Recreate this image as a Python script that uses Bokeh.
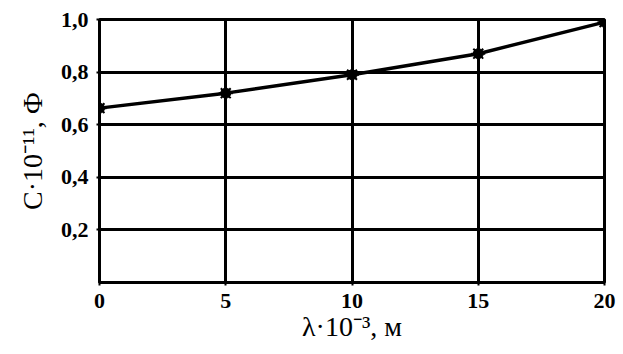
from bokeh.plotting import figure
from bokeh.embed import file_html
from bokeh.resources import INLINE
from bokeh.models import FixedTicker, Range1d

x_vals = [0, 5, 10, 15, 20]
c_vals = [0.663, 0.72, 0.79, 0.87, 0.99]
x_ticks = [0, 5, 10, 15, 20]
y_ticks = [0.2, 0.4, 0.6, 0.8, 1.0]
y_tick_labels = ["0,2", "0,4", "0,6", "0,8", "1,0"]

p = figure(width=620, height=348, output_backend="svg", toolbar_location=None,
           x_range=Range1d(0, 20), y_range=Range1d(0, 1.0),
           min_border_left=99, min_border_right=16, min_border_top=19, min_border_bottom=66)

p.outline_line_color = "black"
p.outline_line_width = 3
p.outline_line_alpha = 1.0

p.xaxis.ticker = FixedTicker(ticks=x_ticks)
p.yaxis.ticker = FixedTicker(ticks=y_ticks)
p.yaxis.major_label_overrides = {t: l for t, l in zip(y_ticks, y_tick_labels)}

for ax in (p.xaxis[0], p.yaxis[0]):
    ax.axis_line_color = "black"
    ax.axis_line_width = 3
    ax.major_tick_line_color = "black"
    ax.major_tick_line_width = 2
    ax.major_tick_out = 3
    ax.major_tick_in = 0
    ax.minor_tick_line_color = None
    ax.major_label_text_font = "Liberation Serif"
    ax.major_label_text_font_style = "bold"
    ax.major_label_text_font_size = "22px"
    ax.major_label_text_color = "black"
    ax.axis_label_text_font = "Liberation Serif"
    ax.axis_label_text_font_style = "normal"
    ax.axis_label_text_font_size = "28px"
    ax.axis_label_text_color = "black"

p.xaxis.major_label_standoff = 8
p.yaxis.major_label_standoff = 8
p.xaxis.axis_label = "λ·10⁻³, м"
p.yaxis.axis_label = "C·10⁻¹¹, Ф"
p.xaxis.axis_label_standoff = 0
p.yaxis.axis_label_standoff = 10

p.xgrid.grid_line_color = "black"
p.xgrid.grid_line_width = 3
p.xgrid.grid_line_alpha = 1.0
p.ygrid.grid_line_color = "black"
p.ygrid.grid_line_width = 3
p.ygrid.grid_line_alpha = 1.0

p.line(x_vals, c_vals, line_color="black", line_width=3.5)
p.scatter(x_vals, c_vals, marker="circle", size=10, fill_color="black", line_color="black")
p.scatter(x_vals, c_vals, marker="asterisk", size=14, line_color="black", line_width=2)

p.background_fill_color = "white"
p.border_fill_color = "white"

open("out.html", "w").write(file_html(p, INLINE))
